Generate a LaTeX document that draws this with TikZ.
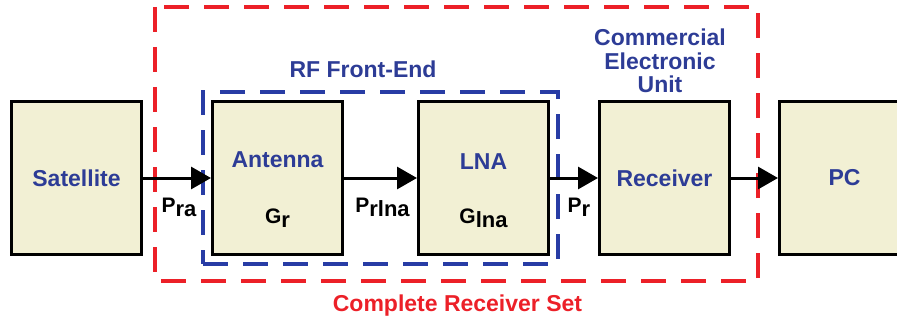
\documentclass[tikz,border=0pt]{standalone}
\usepackage{fontspec}
\setmainfont{Liberation Sans}
\usepackage{xcolor}
\usetikzlibrary{arrows.meta,positioning,fit,calc}
\definecolor{boxfill}{RGB}{242,240,212}
\definecolor{lblue}{RGB}{45,60,150}
\definecolor{dblue}{RGB}{40,60,165}
\definecolor{dred}{RGB}{236,32,40}
\newcommand{\lowsub}[1]{\raisebox{-4.5pt}{\fontsize{22}{22}\selectfont #1}}

\begin{document}
\begin{tikzpicture}[
  x=1pt, y=1pt,
  every node/.style={font=\bfseries\fontsize{23}{23.5}\selectfont},
  blk/.style={draw=black, line width=3pt, fill=boxfill, minimum width=130pt, minimum height=153pt, inner sep=0pt, text=lblue},
  plab/.style={font=\bfseries\fontsize{21}{21}\selectfont, text=black},
  arr/.style={-{Triangle[length=20pt,width=22pt]}, line width=3pt},
  grp/.style={dash pattern=on 25pt off 15pt, line width=3.5pt}
]
\useasboundingbox (0,0) rectangle (897,322);

% complete receiver set
\draw[grp, draw=dred] (155,315) rectangle (758,41);

\node[blk] (sat) at (76.5,144) {Satellite};
\node[blk, right=68pt of sat] (ant) {};
\node[blk, right=73pt of ant] (lna) {};
\node[blk, right=48pt of lna] (rcv) {Receiver};
\node[blk, right=47pt of rcv] (pc) {PC};

\node[text=lblue] (antname) at ([yshift=18pt]ant.center) {Antenna};
\node[plab, anchor=base] (gr) at ([yshift=-45pt]ant.center) {G\lowsub{r}};
\node[text=lblue] (lnaname) at ([yshift=16pt]lna.center) {LNA};
\node[plab, anchor=base] (glna) at ([yshift=-45pt]lna.center) {G\lowsub{lna}};

% rf front-end
\node[grp, draw=dblue, fit=(ant)(lna), inner sep=8pt] (rf) {};

\draw[arr] (sat) -- (ant);
\draw[arr] (ant) -- (lna);
\draw[arr] (lna) -- (rcv);
\draw[arr] (rcv) -- (pc);

\node[plab, anchor=base] (pra) at ($(sat.east)!0.5!(ant.west)+(2,-34)$) {P\lowsub{ra}};
\node[plab, anchor=base] (prlna) at ($(ant.east)!0.5!(lna.west)+(2,-34)$) {P\lowsub{rlna}};
\node[plab, anchor=base] (pr) at ($(lna.east)!0.5!(rcv.west)+(5,-34)$) {P\lowsub{r}};

\node[text=lblue] (rflab) at (363,252.5) {RF Front-End};
\node[text=lblue, align=center] (celab) at (660,261) {Commercial\\Electronic\\Unit};
\node[text=dred] (setlab) at (457.5,16.3) {Complete Receiver Set};
\end{tikzpicture}
\end{document}
